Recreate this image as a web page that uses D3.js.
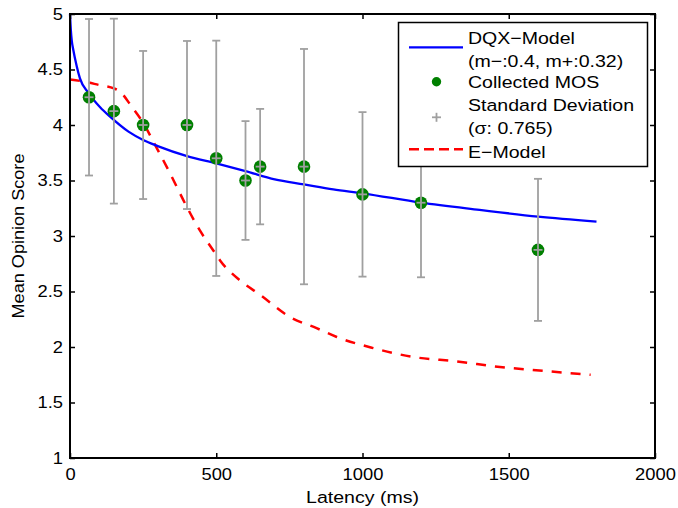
<!DOCTYPE html>
<html>
<head>
<meta charset="utf-8">
<script src="https://cdn.jsdelivr.net/npm/d3@7"></script>
<style>
  html, body { margin: 0; padding: 0; background: #fff; }
  svg { display: block; }
  text { font-family: "Liberation Sans", Arial, Helvetica, sans-serif; fill: #000; }
</style>
</head>
<body>
<svg id="chart" width="678" height="508"></svg>
<script>
// Subjective test results: latency vs. mean opinion score
const latency = [65, 150, 250, 400, 500, 600, 650, 800, 1000, 1200, 1600];
const mos     = [4.25, 4.125, 4.0, 4.0, 3.7, 3.5, 3.625, 3.625, 3.375, 3.3, 2.875];
const stdDev  = [0.705, 0.833, 0.667, 0.757, 1.06, 0.535, 0.52, 1.06, 0.741, 0.672, 0.64];

// DQX model curve
const dqxLatency = [0, 3, 6, 11, 23, 34, 63, 103, 137, 200, 250, 300, 400, 500, 600, 700, 800, 900, 1000, 1200, 1400, 1600, 1800];
const dqxMos     = [5.0, 4.85, 4.76, 4.68, 4.53, 4.42, 4.29, 4.16, 4.075, 3.94, 3.865, 3.81, 3.72, 3.655, 3.585, 3.51, 3.465, 3.42, 3.385, 3.30, 3.235, 3.175, 3.13];

// E-model curve
const eLatency = [0, 50, 100, 150, 171, 211, 251, 291, 342, 393, 444, 490, 513, 581, 650, 752, 843, 912, 1037, 1174, 1322, 1470, 1618, 1780];
const eMos     = [4.41, 4.39, 4.36, 4.33, 4.30, 4.165, 4.015, 3.82, 3.565, 3.295, 3.05, 2.87, 2.78, 2.60, 2.47, 2.27, 2.17, 2.09, 1.99, 1.91, 1.87, 1.82, 1.785, 1.75];

// Axis ticks
const xTicks = [0, 500, 1000, 1500, 2000];
const yTicks = [1, 1.5, 2, 2.5, 3, 3.5, 4, 4.5, 5];

// Legend entries
const legendLabels = ["DQX\u2212Model", "(m\u2212:0.4, m+:0.32)", "Collected MOS", "Standard Deviation", "(\u03c3: 0.765)", "E\u2212Model"];
const xLabel = "Latency (ms)";
const yLabel = "Mean Opinion Score";

const W = 678, H = 508;
const margin = { left: 70, top: 14, right: 23, bottom: 50 };
const iw = W - margin.left - margin.right;
const ih = H - margin.top - margin.bottom;

const BLUE = "#0000ff", RED = "#ff0000", GREEN = "#008000", GRAY = "#a0a0a0";
const FS = 17;

const svg = d3.select("#chart");
const g = svg.append("g").attr("transform", `translate(${margin.left},${margin.top})`);

const x = d3.scaleLinear().domain([0, 2000]).range([0, iw]);
const y = d3.scaleLinear().domain([1, 5]).range([ih, 0]);

// Curves
const dqx = dqxLatency.map((d, i) => [d, dqxMos[i]]);
const em = eLatency.map((d, i) => [d, eMos[i]]);
const line = d3.line().x(d => x(d[0])).y(d => y(d[1])).curve(d3.curveMonotoneX);

g.append("path").datum(em)
  .attr("d", line).attr("fill", "none")
  .attr("stroke", RED).attr("stroke-width", 2.5)
  .attr("stroke-dasharray", "10,9");

g.append("path").datum(dqx)
  .attr("d", line).attr("fill", "none")
  .attr("stroke", BLUE).attr("stroke-width", 2.3);

// Measured points with error bars
const pts = latency.map((d, i) => ({ x: d, m: mos[i], s: stdDev[i] }));
const capW = 4, plusW = 4.5;

const pg = g.append("g").selectAll("g").data(pts).join("g")
  .attr("transform", d => `translate(${x(d.x)},0)`);

pg.append("circle")
  .attr("cx", 0).attr("cy", d => y(d.m)).attr("r", 6.3)
  .attr("fill", GREEN);

const eb = pg.append("g").attr("stroke", GRAY).attr("stroke-width", 1.8).attr("fill", "none");
eb.append("line").attr("x1", 0).attr("x2", 0)
  .attr("y1", d => y(d.m + d.s)).attr("y2", d => y(d.m - d.s));
eb.append("line").attr("x1", -capW).attr("x2", capW)
  .attr("y1", d => y(d.m + d.s)).attr("y2", d => y(d.m + d.s));
eb.append("line").attr("x1", -capW).attr("x2", capW)
  .attr("y1", d => y(d.m - d.s)).attr("y2", d => y(d.m - d.s));
eb.append("line").attr("x1", -plusW).attr("x2", plusW)
  .attr("y1", d => y(d.m)).attr("y2", d => y(d.m));

// Axes: ticks pointing inward on all four sides
const fmt = d => String(d);
const xAxis = g.append("g").attr("transform", `translate(0,${ih})`)
  .call(d3.axisBottom(x).tickValues(xTicks).tickFormat(fmt).tickSizeInner(-5).tickSizeOuter(0).tickPadding(10));
const yAxis = g.append("g")
  .call(d3.axisLeft(y).tickValues(yTicks).tickFormat(fmt).tickSizeInner(-5).tickSizeOuter(0).tickPadding(7));
g.append("g")
  .call(d3.axisTop(x).tickValues(xTicks).tickFormat("").tickSizeInner(-5).tickSizeOuter(0));
g.append("g").attr("transform", `translate(${iw},0)`)
  .call(d3.axisRight(y).tickValues(yTicks).tickFormat("").tickSizeInner(-5).tickSizeOuter(0));

g.selectAll(".domain").remove();
g.selectAll(".tick line").attr("stroke", "#000").attr("stroke-width", 1.5);
[xAxis, yAxis].forEach(a => a.selectAll("text")
  .attr("font-size", FS).attr("font-family", null)
  .each(function () {
    const t = d3.select(this);
    t.attr("transform", `translate(${t.attr("x") || 0},0) scale(1.08,1) translate(${-(+t.attr("x") || 0)},0)`);
  }));

g.append("rect").attr("x", 0).attr("y", 0).attr("width", iw).attr("height", ih)
  .attr("fill", "none").attr("stroke", "#000").attr("stroke-width", 2);

// Axis titles
svg.append("text")
  .attr("transform", `translate(${margin.left + iw / 2},${H - 5}) scale(1.15,1)`)
  .attr("text-anchor", "middle").attr("font-size", FS).text(xLabel);
svg.append("text")
  .attr("transform", `translate(24,${margin.top + ih / 2 - 0}) rotate(-90) scale(1.065,1)`)
  .attr("text-anchor", "middle").attr("font-size", FS).text(yLabel);

// Legend
const lg = svg.append("g");
lg.append("rect").attr("x", 398.5).attr("y", 22.5).attr("width", 249).attr("height", 144)
  .attr("fill", "#fff").attr("stroke", "#000").attr("stroke-width", 1.5);

const tx = 468;
const textRows = [37.5, 60.5, 81.5, 105, 128.3, 151.5];
legendLabels.forEach((s, i) => {
  lg.append("text")
    .attr("transform", `translate(${tx},${textRows[i]}) scale(1.15,1)`)
    .attr("dy", "0.36em").attr("font-size", FS).text(s);
});
lg.append("line").attr("x1", 409).attr("x2", 463).attr("y1", 47.3).attr("y2", 47.3)
  .attr("stroke", BLUE).attr("stroke-width", 2.3);
lg.append("circle").attr("cx", 436.5).attr("cy", 81.7).attr("r", 4.7).attr("fill", GREEN);
lg.append("line").attr("x1", 432).attr("x2", 441).attr("y1", 117.3).attr("y2", 117.3)
  .attr("stroke", GRAY).attr("stroke-width", 1.8);
lg.append("line").attr("x1", 436.5).attr("x2", 436.5).attr("y1", 112.8).attr("y2", 121.8)
  .attr("stroke", GRAY).attr("stroke-width", 1.8);
lg.append("line").attr("x1", 409).attr("x2", 463).attr("y1", 149.3).attr("y2", 149.3)
  .attr("stroke", RED).attr("stroke-width", 2.5).attr("stroke-dasharray", "10,5");
</script>
</body>
</html>
